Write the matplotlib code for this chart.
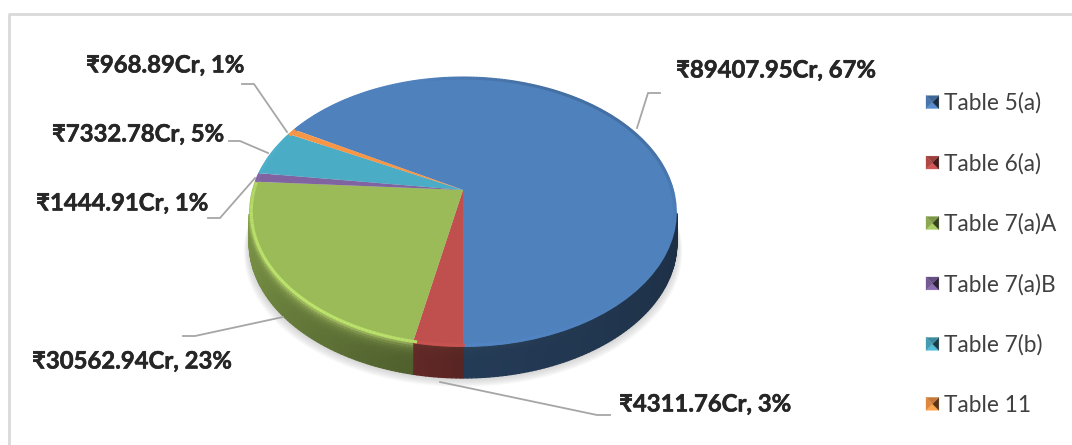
import matplotlib
matplotlib.use("Agg")
import matplotlib.pyplot as plt
import matplotlib.patheffects as pe
import numpy as np
from matplotlib.collections import PolyCollection
from matplotlib.colors import to_rgb
from matplotlib.legend_handler import HandlerBase
from matplotlib.patches import Polygon
from matplotlib.transforms import Transform

plt.rcParams['font.family'] = ['Lato', 'Noto Sans', 'DejaVu Sans']

tables = ["Table 5(a)", "Table 6(a)", "Table 7(a)A", "Table 7(a)B", "Table 7(b)", "Table 11"]
crores = [89407.95, 4311.76, 30562.94, 1444.91, 7332.78, 968.89]
colors = ["#4F81BD", "#C0504D", "#9BBB59", "#8064A2", "#4BACC6", "#F79646"]

values = np.array(crores)
shares = values / values.sum()
labels = [f"₹{v:.2f}Cr, {round(p * 100)}%" for v, p in zip(values, shares)]

# label centre and leader line (pixels), same order as tables
label_xy = [(776, 70), (705, 404), (132, 361), (122, 203), (138, 134), (165, 65)]
leaders = [
    [(637, 128), (648, 93), (660, 93)],
    [(440, 382), (597, 415), (610, 415)],
    [(283, 317), (195, 336), (183, 336)],
    [(255, 178), (220, 218), (208, 218)],
    [(268, 153), (240, 141), (229, 141)],
    [(287, 132), (254, 84), (242, 84)],
]

# perspective of the pie disc
APEX_X, APEX_Y = 463, 190
RX, RY, K = 211, 131.4, 0.163
DEPTH = 31
START = 270 + 360 * shares[0]


def project(x, y):
    w = 1 + K * y
    return APEX_X + RX * x / w, APEX_Y - RY * y / w


class Perspective(Transform):
    input_dims = output_dims = 2

    def transform_non_affine(self, values):
        values = np.asarray(values)
        px, py = project(values[:, 0], values[:, 1])
        return np.column_stack([px, py])


def shade(col, f):
    return np.array(to_rgb(col)) * f


def wall_factor(t):
    # t in degrees, light comes from the left
    u = (t - 190) / 160
    return np.interp(u, [0, 0.5, 1], [0.8, 0.46, 0.36])


fig = plt.figure(figsize=(10.72, 4.45), dpi=100)
ax = fig.add_axes([0, 0, 1, 1])

wedges, _ = ax.pie(values, colors=colors, startangle=START, counterclock=False,
                   radius=1, wedgeprops={'linewidth': 0, 'zorder': 5})
ax.set_aspect('auto')
ax.set_xlim(0, 1072)
ax.set_ylim(445, 0)
ax.axis('off')
for w in wedges:
    w.set_transform(Perspective() + ax.transData)

# frame
ax.plot([1072, 9, 9], [14, 14, 445], color='#d9d9d9', lw=2, zorder=0, clip_on=False)

# soft shadow under the pie
tt = np.radians(np.linspace(0, 360, 200))
sx, sy = project(np.cos(tt), np.sin(tt))
for grow in np.arange(10, 0, -1):
    ax.fill(APEX_X + (sx - APEX_X) * (1 + grow * 0.0025), sy + DEPTH + grow * 0.9,
            color='#808080', alpha=0.035, lw=0, zorder=1)

# side wall, slice by slice
ends = START - 360 * np.cumsum(shares)
starts = np.r_[START, ends[:-1]]
sil = np.degrees(np.arcsin(K))
polys, cols = [], []
for a, b, col in zip(starts, ends, colors):
    for t0 in np.arange(b, a, 1.0):
        t1 = min(t0 + 1.0, a)
        for tm in [t0 - 360, t0, t0 + 360]:
            lo, hi = tm, tm + (t1 - t0)
            if lo < 180 + sil or hi > 360 - sil:
                continue
            xa, ya = project(np.cos(np.radians(lo)), np.sin(np.radians(lo)))
            xb, yb = project(np.cos(np.radians(hi)), np.sin(np.radians(hi)))
            mid = (lo + hi) / 2
            base = shade(col, wall_factor(mid))
            glow = max(0, np.cos(np.radians(mid - 235))) ** 2 * (0.6 if col == "#9BBB59" else 0.05)
            for i in range(12):
                d0, d1 = DEPTH * i / 12, DEPTH * (i + 1) / 12
                mix = glow * np.exp(-(d0 / 4.5))
                c = base * (1 - mix) + np.array(to_rgb("#c8e47a")) * mix
                polys.append([(xa, ya + d0), (xb, yb + d0), (xb, yb + d1), (xa, ya + d1)])
                cols.append(c)
ax.add_collection(PolyCollection(polys, facecolors=cols, edgecolors=cols, linewidths=0.9, zorder=3))

# bevel along the rim of the top face
for a, b, col in zip(starts, ends, colors):
    for t0 in np.arange(b, a, 1.0):
        mid = np.radians(t0 + 0.5)
        lit = np.cos(mid - np.radians(225))
        if lit > 0:
            c = shade(col, 1 + (0.22 if col == "#9BBB59" else 0.05) * lit)
        else:
            c = shade(col, 1 + 0.3 * min(0, lit + 0.5))
        c = np.clip(c, 0, 1)
        t = np.radians([t0, t0 + 1])
        bx, by = project(0.99 * np.cos(t), 0.99 * np.sin(t))
        ax.plot(bx, by, color=c, lw=2.2, solid_capstyle='butt', zorder=6)

# leader lines and labels
for pts in leaders:
    lx, ly = zip(*pts)
    ax.plot(lx, ly, color='#a6a6a6', lw=1.3, zorder=4)
for (x, y), s in zip(label_xy, labels):
    ax.text(x, y, s, ha='center', va='center', fontsize=17.2, fontweight='bold', color='#262626',
            path_effects=[pe.withStroke(linewidth=0.4, foreground='#262626')])


class PyramidHandler(HandlerBase):
    # legend key as a square with four shaded facets
    def create_artists(self, legend, orig, xd, yd, width, height, fontsize, trans):
        s = width
        x0 = -xd
        y0 = (height - s) / 2 - yd
        col = orig.get_facecolor()
        cx, cy = x0 + s / 2, y0 + s / 2
        corners = [(x0, y0), (x0 + s, y0), (x0 + s, y0 + s), (x0, y0 + s)]
        factors = [1.1, 0.35, 0.8, 0.9]
        out = []
        for i, f in enumerate(factors):
            rgb = np.clip(np.array(col[:3]) * f, 0, 1)
            tri = [corners[i], corners[(i + 1) % 4], (cx, cy)]
            out.append(Polygon(tri, closed=True, facecolor=rgb, edgecolor=rgb, lw=0.2, transform=trans))
        return out


ax.legend(wedges, tables, loc='upper left', bbox_to_anchor=(926, 92.5), bbox_transform=ax.transData,
          frameon=False, fontsize=16.3, borderpad=0, borderaxespad=0, labelspacing=1.72,
          handlelength=0.57, handletextpad=0.24, labelcolor='#404040',
          handler_map={type(wedges[0]): PyramidHandler()})

fig.savefig("out.png", dpi=100)
